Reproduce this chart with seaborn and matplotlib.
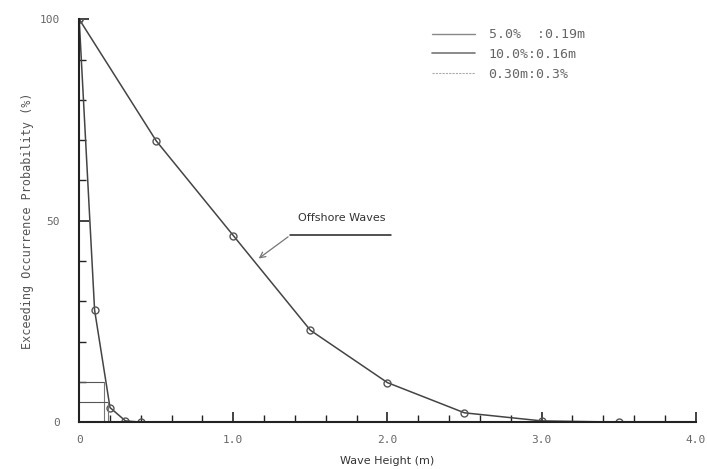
import matplotlib
matplotlib.use("Agg")
import matplotlib.pyplot as plt
from matplotlib.lines import Line2D
import seaborn as sns
import pandas as pd

# Data
offshore_h = [0.0, 0.5, 1.0, 1.5, 2.0, 2.5, 3.0, 3.5]
offshore_p = [100.0, 69.8, 46.3, 22.8, 9.8, 2.3, 0.3, 0.0]
nearshore_h = [0.0, 0.1, 0.2, 0.3, 0.4]
nearshore_p = [100.0, 27.8, 3.6, 0.3, 0.0]
ref_levels = [10.0, 5.0]
ref_heights = [0.16, 0.19]
legend_labels = ["5.0%  :0.19m", "10.0%:0.16m", "0.30m:0.3%"]
x_ticks = [0, 1, 2, 3, 4]
x_tick_labels = ["0", "1.0", "2.0", "3.0", "4.0"]
y_ticks = [0, 50, 100]
y_tick_labels = ["0", "50", "100"]
annot_text = "Offshore Waves"

sns.set_style("ticks")
plt.rcParams['font.family'] = ['DejaVu Sans']

fig = plt.figure(figsize=(7.07, 4.69), dpi=100)
ax = fig.add_axes([0.112, 0.1, 0.872, 0.859])

df_off = pd.DataFrame({"h": offshore_h, "p": offshore_p})
df_near = pd.DataFrame({"h": nearshore_h, "p": nearshore_p})

line_col = "#444444"
sns.lineplot(data=df_off, x="h", y="p", ax=ax, color=line_col, lw=1.1,
             marker="o", markersize=5, markerfacecolor="none",
             markeredgecolor="#555555", markeredgewidth=1.0)
sns.lineplot(data=df_near, x="h", y="p", ax=ax, color=line_col, lw=1.1,
             marker="o", markersize=5, markerfacecolor="none",
             markeredgecolor="#555555", markeredgewidth=1.0)

# reference lines
for lvl, hh in zip(ref_levels, ref_heights):
    ax.plot([0, hh], [lvl, lvl], color="#555555", lw=0.8)
    ax.plot([hh, hh], [0, lvl], color="#777777", lw=0.8)

ax.set_xlim(0, 4.0)
ax.set_ylim(0, 100)
ax.set_xticks(x_ticks)
ax.set_xticklabels(x_tick_labels, family="DejaVu Sans Mono", color="#666666", fontsize=8)
ax.set_yticks(y_ticks)
ax.set_yticklabels(y_tick_labels, family="DejaVu Sans Mono", color="#666666", fontsize=8)
ax.set_xticks([i * 0.2 for i in range(21)], minor=True)
ax.set_yticks([i * 10 for i in range(11)], minor=True)
ax.tick_params(axis="both", which="major", direction="in", length=7, width=1.2, color="#222222")
ax.tick_params(axis="both", which="minor", direction="in", length=5, width=1.0, color="#222222")
ax.tick_params(axis="y", which="major", pad=14)
ax.tick_params(axis="x", which="major", pad=9)

sns.despine(ax=ax)
for s in ["left", "bottom"]:
    ax.spines[s].set_linewidth(1.5)
    ax.spines[s].set_color("#222222")

ax.set_xlabel("Wave Height (m)", fontsize=8, color="#333333", labelpad=8)
ax.set_ylabel("Exceeding Occurrence Probability (%)", fontsize=8.5,
              family="DejaVu Sans Mono", color="#555555", labelpad=4)

# annotation
ax.plot([1.37, 2.02], [46.4, 46.4], color="#222222", lw=1.1)
ax.annotate("", xy=(1.15, 40.2), xytext=(1.37, 46.4),
            arrowprops=dict(arrowstyle="->", color="#777777", lw=0.9))
ax.text(1.42, 49.5, annot_text, fontsize=8, color="#333333", ha="left", va="bottom")

handles = [Line2D([], [], color="#888888", lw=1.0),
           Line2D([], [], color="#777777", lw=1.2),
           Line2D([], [], color="#aaaaaa", lw=0.8, ls=(0, (2, 1)))]
leg = ax.legend(handles, legend_labels, loc="upper left", bbox_to_anchor=(0.572, 0.977),
                frameon=False, prop={"family": "DejaVu Sans Mono", "size": 9.5},
                handlelength=3.3, labelspacing=0.5, handletextpad=1.0,
                borderpad=0, borderaxespad=0)
for t in leg.get_texts():
    t.set_color("#666666")

fig.savefig("out.png", dpi=100)
